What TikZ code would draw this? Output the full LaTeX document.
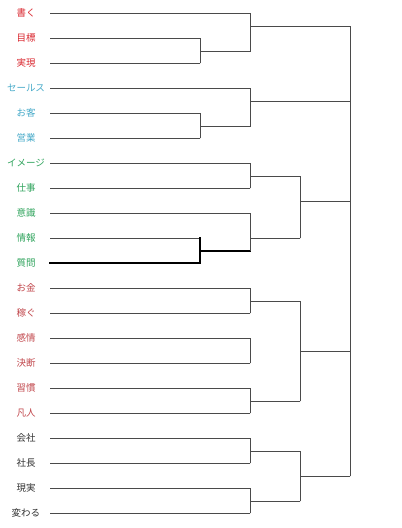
\documentclass[tikz,border=0pt]{standalone}
\usepackage{fontspec}
\newfontfamily\jpfont{Noto Sans CJK JP}
\usepackage{xcolor}
\usetikzlibrary{calc}

\definecolor{wordRed}{HTML}{D9262E}
\definecolor{wordBlue}{HTML}{45A9C8}
\definecolor{wordGreen}{HTML}{2FA35C}
\definecolor{wordBrown}{HTML}{C0454A}
\definecolor{wordBlack}{HTML}{333333}
\definecolor{lineGray}{HTML}{4A4A4A}

\tikzset{
  lab/.style={font=\jpfont\fontsize{9.5}{11}\selectfont, inner sep=0pt, anchor=center},
  branch/.style={draw=lineGray, line width=0.8pt, line cap=rect},
  heavy/.style={draw=black, line width=1.4pt, line cap=rect}
}

\begin{document}
\begin{tikzpicture}[x=1pt, y=-1pt]
  \useasboundingbox (0,0) rectangle (402,528);

  % leaves: label, colour, end of leaf line
  \foreach \t/\c/\e [count=\i] in {書く/wordRed/250, 目標/wordRed/200, 実現/wordRed/200,
      セールス/wordBlue/250, お客/wordBlue/200, 営業/wordBlue/200,
      イメージ/wordGreen/250, 仕事/wordGreen/250, 意識/wordGreen/250, 情報/wordGreen/200, 質問/wordGreen/200,
      お金/wordBrown/250, 稼ぐ/wordBrown/250, 感情/wordBrown/250, 決断/wordBrown/250, 習慣/wordBrown/250, 凡人/wordBrown/250,
      会社/wordBlack/250, 社長/wordBlack/250, 現実/wordBlack/250, 変わる/wordBlack/250} {
    \node[lab, text=\c] (l\i) at (26, {13+25*(\i-1)}) {\t};
    \coordinate (s\i) at (50, {13+25*(\i-1)});
    \coordinate (e\i) at (\e, {13+25*(\i-1)});
  }
  \foreach \i in {1,...,10,12,13,...,21} {
    \draw[branch] (s\i) -- (e\i);
  }
  \draw[heavy] (s11) -- (e11);

  % junction points
  \coordinate (a1) at (200,51);   \coordinate (b1) at (250,26);
  \coordinate (a2) at (200,126);  \coordinate (b2) at (250,101);
  \coordinate (b3) at (250,176);
  \coordinate (a4) at (200,251);  \coordinate (b4) at (250,238);
  \coordinate (c1) at (300,201);
  \coordinate (b5) at (250,301);  \coordinate (b6) at (250,401);
  \coordinate (c2) at (300,351);
  \coordinate (b7) at (250,451);  \coordinate (b8) at (250,501);
  \coordinate (c3) at (300,476);
  \coordinate (top) at (350,26);  \coordinate (bot) at (350,476);

  % red group
  \draw[branch] (e2) -- (e3);
  \draw[branch] (a1) -- (a1 -| e1) -- (e1);
  \draw[branch] (b1) -- (top);

  % blue group
  \draw[branch] (e5) -- (e6);
  \draw[branch] (a2) -- (a2 -| e4) -- (e4);
  \draw[branch] (b2) -- (b2 -| top);

  % green group
  \draw[branch] (e7) -- (e8);
  \draw[branch] (b3) -- (b3 -| c1);
  \draw[heavy] (e10) -- (e11);
  \draw[heavy] (a4) -- (a4 -| e9);
  \draw[branch] (a4 -| e9) -- (e9);
  \draw[branch] (b4) -- (b4 -| c1);
  \draw[branch] (b3 -| c1) -- (b4 -| c1);
  \draw[branch] (c1) -- (c1 -| top);

  % brown group
  \draw[branch] (e12) -- (e13);
  \draw[branch] (b5) -- (b5 -| c2);
  \draw[branch] (e14) -- (e15);
  \draw[branch] (e16) -- (e17);
  \draw[branch] (b6) -- (b6 -| c2);
  \draw[branch] (b5 -| c2) -- (b6 -| c2);
  \draw[branch] (c2) -- (c2 -| top);

  % black group
  \draw[branch] (e18) -- (e19);
  \draw[branch] (b7) -- (b7 -| c3);
  \draw[branch] (e20) -- (e21);
  \draw[branch] (b8) -- (b8 -| c3);
  \draw[branch] (b7 -| c3) -- (b8 -| c3);
  \draw[branch] (c3) -- (bot);

  % root
  \draw[branch] (top) -- (bot);
\end{tikzpicture}
\end{document}
